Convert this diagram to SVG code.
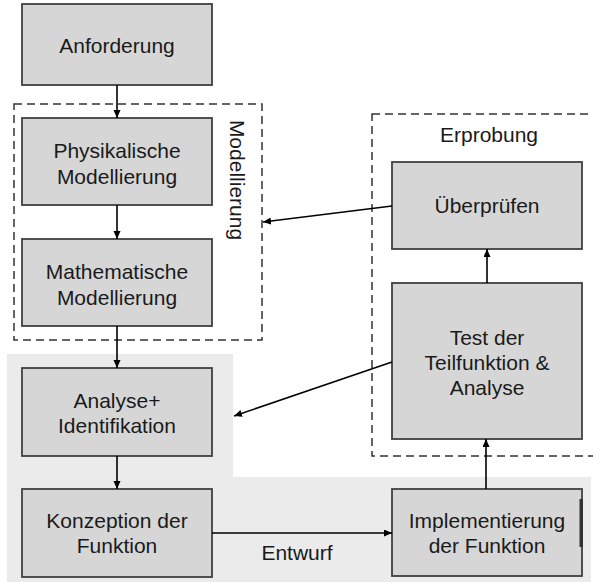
<svg xmlns="http://www.w3.org/2000/svg" width="593" height="582" viewBox="0 0 593 582">
<style>
.box{fill:#d6d6d6;stroke:#404040;stroke-width:1.8}
.t{font-family:"Liberation Sans",Arial,sans-serif;font-size:21px;fill:#1a1a1a;text-anchor:middle}
.dash{fill:none;stroke:#333;stroke-width:1.5;stroke-dasharray:8 5}
.c{fill:none;stroke:#000;stroke-width:1.6;marker-end:url(#ah)}
</style>
<defs>
<marker id="ah" markerUnits="userSpaceOnUse" markerWidth="9" markerHeight="8" refX="8" refY="3.5" orient="auto">
<path d="M0,0 L8,3.5 L0,7 z" fill="#000"/>
</marker>
</defs>
<rect width="593" height="582" fill="#fff"/>
<g id="entwurf-region">
<polygon points="7,354 233,354 233,477 591,477 591,582 7,582" fill="#ebebeb"/>
</g>
<g id="modellierung-group">
<rect class="dash" x="14" y="104" width="248" height="236"/>
<text class="t" transform="translate(230,180) rotate(90)">Modellierung</text>
</g>
<g id="erprobung-group">
<rect class="dash" x="372" y="114" width="240" height="342"/>
<text class="t" x="489" y="142">Erprobung</text>
</g>
<g id="anforderung">
<rect class="box" x="22" y="4" width="190" height="81"/>
<text class="t" x="117" y="53">Anforderung</text>
</g>
<g id="physikalische">
<rect class="box" x="22" y="118" width="190" height="87"/>
<text class="t" x="117" y="158">Physikalische</text>
<text class="t" x="117" y="184">Modellierung</text>
</g>
<g id="mathematische">
<rect class="box" x="22" y="239" width="190" height="87"/>
<text class="t" x="117" y="279">Mathematische</text>
<text class="t" x="117" y="305">Modellierung</text>
</g>
<g id="analyse">
<rect class="box" x="22" y="368" width="190" height="88"/>
<text class="t" x="117" y="408">Analyse+</text>
<text class="t" x="117" y="433">Identifikation</text>
</g>
<g id="konzeption">
<rect class="box" x="22" y="489" width="190" height="88"/>
<text class="t" x="117" y="528">Konzeption der</text>
<text class="t" x="117" y="553">Funktion</text>
</g>
<g id="implementierung">
<rect class="box" x="392" y="489" width="190" height="87"/>
<rect x="579.5" y="499" width="3.5" height="48" fill="#333"/>
<text class="t" x="487" y="528">Implementierung</text>
<text class="t" x="487" y="553">der Funktion</text>
</g>
<g id="test">
<rect class="box" x="392" y="283" width="190" height="156"/>
<text class="t" x="487" y="345">Test der</text>
<text class="t" x="487" y="370">Teilfunktion &amp;</text>
<text class="t" x="487" y="395">Analyse</text>
</g>
<g id="ueberpruefen">
<rect class="box" x="392" y="162" width="190" height="87"/>
<text class="t" x="487" y="213">Überprüfen</text>
</g>
<g id="connectors">
<line class="c" x1="117" y1="85" x2="117" y2="118"/>
<line class="c" x1="117" y1="205" x2="117" y2="239"/>
<line class="c" x1="117" y1="326" x2="117" y2="368"/>
<line class="c" x1="117" y1="456" x2="117" y2="489"/>
<line class="c" x1="212" y1="533" x2="392" y2="533"/>
<line class="c" x1="486" y1="489" x2="486" y2="439"/>
<line class="c" x1="487" y1="283" x2="487" y2="249"/>
<line class="c" x1="392" y1="206" x2="263" y2="222"/>
<line class="c" x1="392" y1="362" x2="234" y2="416"/>
<text class="t" x="297" y="560">Entwurf</text>
</g>
</svg>
